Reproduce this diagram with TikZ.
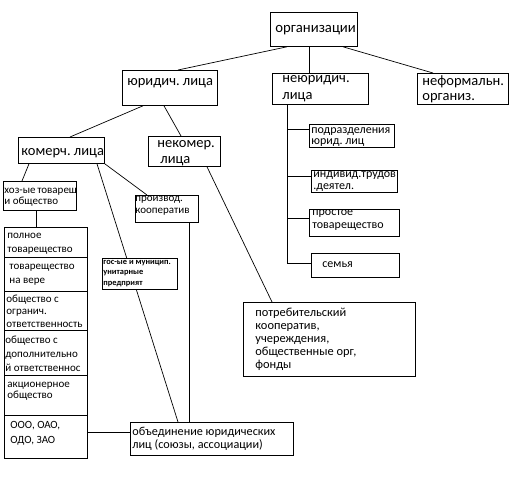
\documentclass[tikz,border=0pt]{standalone}
\usepackage{fontspec}
\setmainfont{Carlito}
\newcommand\bxt[7]{\parbox[t][#2][t]{#1}{\fontsize{#5}{#6}\selectfont\lineskiplimit=-1000pt\relax\hyphenpenalty=10000\exhyphenpenalty=10000\relax\leftskip=#3\relax\rightskip=0pt plus 1fil\relax\vspace*{\dimexpr#4-#6\relax}\hbox{}#7\par}}
\tikzset{
  box/.style={draw, line width=0.8pt, inner sep=0pt, anchor=north west, fill=white},
  conn/.style={line width=0.7pt}
}
\begin{document}
\begin{tikzpicture}[x=1pt,y=-1pt]
\useasboundingbox[fill=white] (0,0) rectangle (515,482);
% top level
\node[box] (org) at (270,12) {\bxt{87pt}{34pt}{5pt}{20pt}{14.7pt}{17pt}{организации}};
\node[box] (jur) at (122,70) {\bxt{95pt}{35pt}{5pt}{15pt}{14.5pt}{17pt}{юридич.~лица}};
\node[box] (nejur) at (272,73) {\bxt{96pt}{31pt}{10pt}{9pt}{14.5pt}{17pt}{неюридич.\\лица}};
\node[box] (neform) at (417,73) {\bxt{91pt}{31pt}{5pt}{12pt}{14.5pt}{15pt}{неформальн.\\организ.}};
% second level
\node[box] (komerch) at (18,137) {\bxt{86pt}{26pt}{3pt}{18pt}{14.5pt}{17pt}{комерч.~лица}};
\node[box] (nekomer) at (148,136) {\bxt{72pt}{30pt}{9pt}{11pt}{14.5pt}{16pt}{некомер.\\\hspace*{3pt}лица}};
% commercial
\node[box] (hoz) at (3,181) {\bxt{73pt}{29pt}{1pt}{12pt}{11pt}{11pt}{хоз-ые~товарещ\\и~общество}};
\node[box] (proizv) at (135,195) {\bxt{63pt}{27pt}{0pt}{6pt}{11pt}{12pt}{производ.\\кооператив}};
\node[box] (gos) at (102,258) {\bxt{75pt}{31pt}{1pt}{6pt}{8.4pt}{10.5pt}{\bfseries гос-ые~и~муницип.\\унитарные\\предприят}};
% stack
\node[box] (s1) at (4,227) {\bxt{83pt}{30pt}{3pt}{11pt}{11pt}{14pt}{полное\\товарещество}};
\node[box] (s2) at (4,257) {\bxt{83pt}{34pt}{5pt}{12pt}{11pt}{14pt}{товарещество\\на~вере}};
\node[box] (s3) at (4,291) {\bxt{83pt}{39pt}{2pt}{11pt}{11pt}{12.5pt}{общество~с\\огранич.\\ответственность}};
\node[box] (s4) at (4,330) {\bxt{83pt}{45pt}{1pt}{13pt}{11pt}{14pt}{общество~с\\дополнительно\\й~ответственнос}};
\node[box] (s5) at (4,375) {\bxt{83pt}{40pt}{3pt}{12pt}{11pt}{11.5pt}{акционерное\\общество}};
\node[box] (s6) at (4,415) {\bxt{83pt}{43pt}{6pt}{13pt}{11pt}{15pt}{ООО,~ОАО,\\ОДО,~ЗАО}};
\node[box] (obj) at (130,422) {\bxt{163pt}{33pt}{2pt}{13pt}{12.2pt}{13pt}{объединение~юридических\\лиц~(союзы,~ассоциации)}};
% non-commercial
\node[box] (potreb) at (243,302) {\bxt{172pt}{74pt}{12pt}{14pt}{12.4pt}{13pt}{потребительский\\кооператив,\\учереждения,\\общественные~орг,\\фонды}};
% non-legal
\node[box] (podr) at (309,124) {\bxt{85pt}{23pt}{2pt}{9pt}{12pt}{11.5pt}{подразделения\\юрид.~лиц}};
\node[box] (indiv) at (311,170) {\bxt{86pt}{22pt}{2pt}{7pt}{12pt}{12pt}{индивид.трудов\\.деятел.}};
\node[box] (prost) at (309,209) {\bxt{90pt}{27pt}{3pt}{6pt}{12pt}{13pt}{простое\\товарещество}};
\node[box] (semya) at (311,253) {\bxt{88pt}{24pt}{11pt}{14pt}{12pt}{13pt}{семья}};
% connectors
\draw[conn] ([xshift=17pt]org.south west) -- ([xshift=56pt]jur.north west);
\draw[conn] ([xshift=39pt]org.south west) -- ([xshift=37pt]nejur.north west);
\draw[conn] ([xshift=73pt]org.south west) -- ([xshift=16pt]neform.north west);
\draw[conn] ([xshift=21pt]jur.south west) -- ([xshift=52pt]komerch.north west);
\draw[conn] ([xshift=42pt]jur.south west) -- ([xshift=33pt]nekomer.north west);
\draw[conn] ([xshift=11pt]komerch.south west) -- ([xshift=19pt]hoz.north west);
\draw[conn] ([xshift=33pt]hoz.south west) -- ([xshift=32pt]s1.north west);
\draw[conn] (komerch.south east) -- ([xshift=12pt]proizv.north west);
\draw[conn] ([xshift=79pt]komerch.south west) -- ([xshift=24.7pt]gos.north west);
\draw[conn] ([xshift=34.4pt]gos.south west) -- ([xshift=48pt]obj.north west);
\draw[conn] ([xshift=54pt]proizv.south west) -- ([xshift=59pt]obj.north west);
\draw[conn] ([yshift=-17pt]s6.north east) -- ([yshift=-10pt]obj.north west);
\draw[conn] ([xshift=59pt]nekomer.south west) -- ([xshift=29pt]potreb.north west);
\coordinate (trunk) at ([xshift=15pt]nejur.south west);
\draw[conn] (trunk) |- ([yshift=-10pt]semya.north west);
\draw[conn] (trunk) |- ([yshift=-5pt]podr.north west);
\draw[conn] (trunk) |- ([yshift=-6pt]indiv.north west);
\draw[conn] (trunk) |- ([yshift=-9pt]prost.north west);
\end{tikzpicture}
\end{document}
